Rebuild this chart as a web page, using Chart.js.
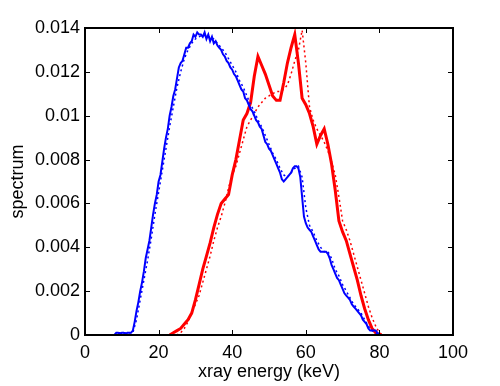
<!DOCTYPE html>
<html>
<head>
<meta charset="utf-8">
<script src="https://cdn.jsdelivr.net/npm/chart.js@4/dist/chart.umd.min.js"></script>
<style>
html,body{margin:0;padding:0;background:#fff;}
#wrap{width:500px;height:386px;position:relative;}
</style>
</head>
<body>
<div id="wrap"><canvas id="c" width="500" height="386"></canvas></div>
<script>
const energyBlueFine = [8,8.5,9,9.5,10,10.5,11,11.5,12,12.5,13,13.5,14,14.5,15,15.5,16,16.5,17,17.5,18,18.5,19,19.5,20,20.5,21,21.5,22,22.5,23,23.5,24,24.5,25,25.5,26,26.5,27,27.5,28,28.5,29,29.5,30,30.5,31,31.5,32,32.5,33,33.5,34,34.5,35,35.5,36,36.5,37,37.5,38,38.5,39,39.5,40,40.5,41,41.5,42,42.5,43,43.5,44,44.5,45,45.5,46,46.5,47,47.5,48,48.5,49,49.5,50,50.5,51,51.5,52,52.5,53,53.5,54,54.5,55,55.5,56,56.5,57,57.5,58,58.5,59,59.5,60,60.5,61,61.5,62,62.5,63,63.5,64,64.5,65,65.5,66,66.5,67,67.5,68,68.5,69,69.5,70,70.5,71,71.5,72,72.5,73,73.5,74,74.5,75,75.5,76,76.5,77,77.5,78,78.5,79,79.5,80];
const spectrumBlue = [0,0.0001,0.0001,0.00005,0.0001,0.0001,0.00005,0.0001,0.0001,0.0001,0.0002,0.0006,0.0011,0.0015,0.0020,0.0024,0.0029,0.0035,0.0039,0.0043,0.0049,0.0055,0.0060,0.0064,0.0070,0.0073,0.0079,0.0085,0.0090,0.0094,0.0100,0.0104,0.0109,0.0112,0.0117,0.0122,0.0124,0.0125,0.0128,0.0131,0.0131,0.0133,0.0134,0.0137,0.0136,0.0138,0.0137,0.0137,0.0136,0.0138,0.0135,0.0137,0.0134,0.0136,0.0133,0.0134,0.0132,0.0131,0.0130,0.0128,0.0127,0.0125,0.0124,0.0122,0.0121,0.0119,0.0118,0.0116,0.0114,0.0112,0.0111,0.0108,0.0107,0.0105,0.0103,0.0102,0.0100,0.0098,0.0097,0.0095,0.0094,0.0091,0.0088,0.0087,0.0085,0.0084,0.0082,0.0080,0.0078,0.0076,0.0074,0.0071,0.0070,0.0071,0.0072,0.0073,0.0074,0.0076,0.0077,0.0077,0.0076,0.0072,0.0063,0.0054,0.0051,0.0049,0.0048,0.0047,0.0045,0.0043,0.0041,0.0039,0.0038,0.0038,0.0038,0.0038,0.0037,0.0035,0.0032,0.0030,0.0028,0.0026,0.0025,0.0023,0.0021,0.0019,0.0018,0.0017,0.0016,0.0014,0.0013,0.0012,0.0011,0.0010,0.0009,0.0007,0.0006,0.0005,0.0003,0.0002,0.0002,0.0002,0.0002,0.0001,0];
const energyBlue = [8,9,10,11,12,13,14,15,16,17,18,19,20,21,22,23,24,25,26,27,28,29,30,31,32,33,34,35,36,37,38,39,40,41,42,43,44,45,46,47,48,49,50,51,52,53,54,55,56,57,58,59,60,61,62,63,64,65,66,67,68,69,70,71,72,73,74,75,76,77,78,79,80];
const spectrumBlueDotted = [0,0.0001,0.0001,0.0001,0.0001,0.0001,0.0007,0.0016,0.0025,0.0034,0.0044,0.0055,0.0065,0.0075,0.0085,0.0095,0.0104,0.0113,0.0120,0.0126,0.0130,0.0133,0.0135,0.0136,0.0137,0.0136,0.0136,0.0135,0.0133,0.0131,0.0129,0.0126,0.0123,0.0120,0.0116,0.0113,0.0109,0.0105,0.0102,0.0098,0.0095,0.0091,0.0087,0.0083,0.0080,0.0076,0.0073,0.0072,0.0074,0.0076,0.0077,0.0072,0.0058,0.0050,0.0047,0.0043,0.0040,0.0038,0.0038,0.0035,0.0030,0.0027,0.0023,0.0020,0.0017,0.0014,0.0012,0.0010,0.0007,0.0004,0.0002,0.0001,0];
const energyRed = [23,24,25,26,27,28,29,30,31,32,33,34,35,36,37,38,39,40,41,42,43,44,45,46,47,48,49,50,51,52,53,54,55,56,57,58,59,60,61,62,63,64,65,66,67,68,69,70,71,72,73,74,75,76,77,78,79,80];
const spectrumRed = [0,0.0001,0.0002,0.0003,0.0005,0.0007,0.0010,0.0016,0.0023,0.0030,0.0036,0.0042,0.0049,0.0055,0.0060,0.0062,0.0064,0.0073,0.0080,0.0089,0.0098,0.0101,0.0106,0.0118,0.0127,0.0123,0.0119,0.0114,0.0109,0.0107,0.0107,0.0115,0.0124,0.0131,0.0137,0.0124,0.0108,0.0105,0.0101,0.0095,0.0087,0.0091,0.0094,0.0087,0.0078,0.0066,0.0052,0.0047,0.0043,0.0037,0.0031,0.0025,0.0018,0.0012,0.0007,0.0003,0.0001,0];
const energyRedDotted = [14,15,16,17,18,19,20,21,22,23,24,25,26,27,28,29,30,31,32,33,34,35,36,37,38,39,40,41,42,43,44,45,46,47,48,49,50,51,52,53,54,55,56,57,58,59,60,61,62,63,64,65,66,67,68,69,70,71,72,73,74,75,76,77,78,79,80,81];
const spectrumRedDotted = [0,0,0,0,0,0,0,0,0,0,0,0,0.0001,0.0003,0.0006,0.0010,0.0014,0.0018,0.0024,0.0030,0.0036,0.0043,0.0049,0.0054,0.0060,0.0067,0.0073,0.0077,0.0083,0.0089,0.0095,0.0098,0.0101,0.0104,0.0106,0.0108,0.0109,0.0110,0.0111,0.0111,0.0112,0.0114,0.0119,0.0125,0.0130,0.0139,0.0124,0.0104,0.0098,0.0094,0.0091,0.0088,0.0084,0.0079,0.0073,0.0063,0.0052,0.0048,0.0043,0.0037,0.0031,0.0025,0.0019,0.0013,0.0008,0.0004,0.0001,0];
const xTicks = [0,20,40,60,80,100];
const yTicks = [0,0.002,0.004,0.006,0.008,0.01,0.012,0.014];

function pts(xs, ys){ return xs.map((x,i)=>({x:x,y:ys[i]})); }

const FONT = "'Liberation Sans', Arial, Helvetica, sans-serif";

const boxPlugin = {
  id:'box',
  afterDraw(chart){
    const {ctx, chartArea:a, scales} = chart;
    ctx.save();
    ctx.strokeStyle = '#000';
    ctx.lineWidth = 1;
    const L = 5;
    ctx.beginPath();
    scales.x.ticks.forEach(t=>{
      const px = Math.round(scales.x.getPixelForValue(t.value))+0.5;
      ctx.moveTo(px, a.bottom); ctx.lineTo(px, a.bottom-L);
      ctx.moveTo(px, a.top); ctx.lineTo(px, a.top+L);
    });
    scales.y.ticks.forEach(t=>{
      const py = Math.round(scales.y.getPixelForValue(t.value))+0.5;
      ctx.moveTo(a.left, py); ctx.lineTo(a.left+L, py);
      ctx.moveTo(a.right, py); ctx.lineTo(a.right-L, py);
    });
    ctx.stroke();
    ctx.lineWidth = 2;
    ctx.strokeRect(a.left, a.top, a.right-a.left, a.bottom-a.top);
    ctx.restore();
  }
};

new Chart(document.getElementById('c'), {
  type:'scatter',
  data:{
    datasets:[
      {data:pts(energyBlueFine, spectrumBlue), showLine:true, borderColor:'#0000ff', borderWidth:2, pointRadius:0, tension:0},
      {data:pts(energyBlue, spectrumBlueDotted), showLine:true, borderColor:'#0000ff', borderWidth:1.5, borderDash:[2,3], pointRadius:0, tension:0},
      {data:pts(energyRed, spectrumRed), showLine:true, borderColor:'#ff0000', borderWidth:3, pointRadius:0, tension:0},
      {data:pts(energyRedDotted, spectrumRedDotted), showLine:true, borderColor:'#ff0000', borderWidth:1.5, borderDash:[2,3], pointRadius:0, tension:0}
    ]
  },
  options:{
    responsive:false,
    animation:false,
    devicePixelRatio:1,
    layout:{padding:{top:28,right:47,left:0,bottom:0}},
    plugins:{legend:{display:false}, tooltip:{enabled:false}},
    scales:{
      x:{
        type:'linear', min:0, max:100,
        afterBuildTicks(s){ s.ticks = xTicks.map(v=>({value:v})); },
        afterFit(s){ s.height = 51; },
        grid:{display:false, drawTicks:false},
        border:{display:false},
        ticks:{color:'#000', font:{family:FONT,size:18}, padding:7, maxRotation:0, autoSkip:false,
          callback:v=>String(v)},
        title:{display:true, text:'xray energy (keV)', color:'#000', font:{family:FONT,size:18}, padding:{top:0,bottom:3}}
      },
      y:{
        type:'linear', min:0, max:0.014,
        afterBuildTicks(s){ s.ticks = yTicks.map(v=>({value:v})); },
        afterFit(s){ s.width = 85; },
        grid:{display:false, drawTicks:false},
        border:{display:false},
        ticks:{color:'#000', font:{family:FONT,size:18}, padding:5, autoSkip:false,
          callback:v=>String(Number(v.toFixed(3)))},
        title:{display:true, text:'spectrum', color:'#000', font:{family:FONT,size:18}, padding:{top:7,bottom:0}}
      }
    }
  },
  plugins:[boxPlugin]
});
</script>
</body>
</html>
